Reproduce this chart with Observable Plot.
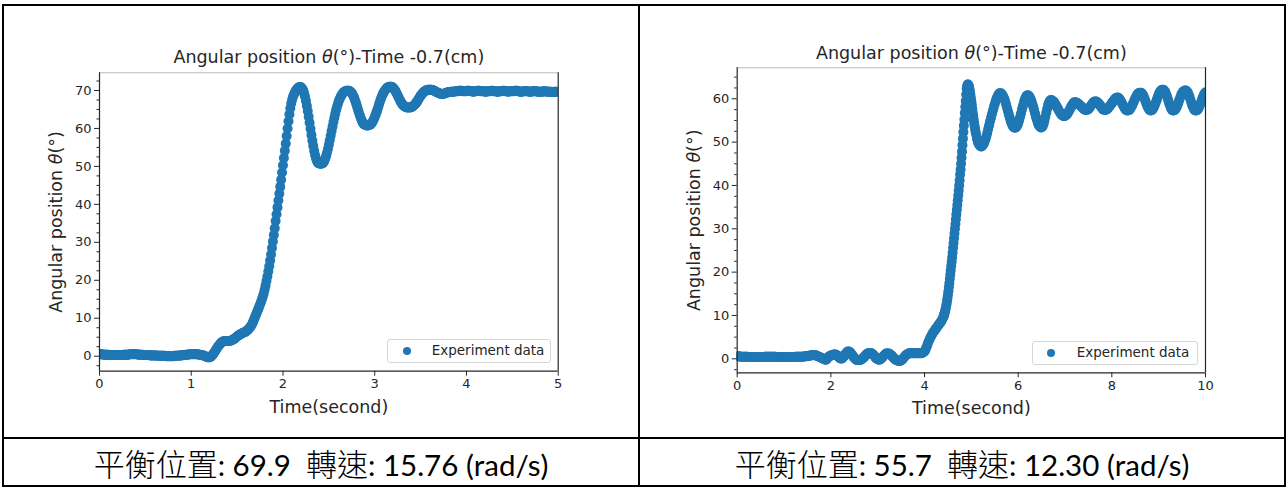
<!DOCTYPE html>
<html><head><meta charset="utf-8">
<script src="https://cdn.jsdelivr.net/npm/d3@7"></script>
<script src="https://cdn.jsdelivr.net/npm/@observablehq/plot@0.6"></script>
<style>
body{margin:0;background:#fff;}
#page{position:relative;width:1288px;height:488px;overflow:hidden;background:#fff;font-family:"DejaVu Sans",sans-serif;}
.line{position:absolute;background:#000;}
.chart{position:absolute;top:0;}
.legend{position:absolute;box-sizing:border-box;border:1px solid #d6d6d6;border-radius:3px;background:rgba(255,255,255,0.8);font:13.5px "DejaVu Sans",sans-serif;color:#262626;}
.legend .mk{position:absolute;width:8px;height:8px;border-radius:50%;background:#1f77b4;}
.legend .lb{position:absolute;white-space:nowrap;line-height:1;}
.caption{position:absolute;white-space:pre;font-family:Lato,"Noto Sans CJK TC",sans-serif;font-size:29.5px;font-weight:400;color:#000;transform:translate(-50%,-50%);line-height:1;}
.caption .cjk{font-family:"Noto Sans CJK TC",sans-serif;font-size:31px;font-weight:300;}
</style></head>
<body><div id="page"></div>
<script>
// ---------- texts ----------
const titleText = "Angular position θ(°)-Time -0.7(cm)";
const yLabelText = "Angular position θ(°)";
const xLabelText = "Time(second)";
const legendText = "Experiment data";
const captions = ["平衡位置: 69.9  轉速: 15.76 (rad/s)", "平衡位置: 55.7  轉速: 12.30 (rad/s)"];

// ---------- axes ----------
const leftXTicks = [0, 1, 2, 3, 4, 5];
const leftYTicks = [0, 10, 20, 30, 40, 50, 60, 70];
const leftYMinor = [-2.5, 2.5, 5, 7.5, 12.5, 15, 17.5, 22.5, 25, 27.5, 32.5, 35, 37.5, 42.5, 45, 47.5, 52.5, 55, 57.5, 62.5, 65, 67.5, 72.5];
const leftXDomain = [0, 5];
const leftYDomain = [-3.95, 74.66];

const rightXTicks = [0, 2, 4, 6, 8, 10];
const rightYTicks = [0, 10, 20, 30, 40, 50, 60];
const rightYMinor = [-2.5, 2.5, 5, 7.5, 12.5, 15, 17.5, 22.5, 25, 27.5, 32.5, 35, 37.5, 42.5, 45, 47.5, 52.5, 55, 57.5, 62.5, 65];
const rightXDomain = [0, 10];
const rightYDomain = [-3.23, 67.15];

// ---------- data: left chart, sampled every 0.01 s from 0 to 5 s ----------
const leftStart = 0;
const leftStep = 0.01;
const leftTheta = [
0.5,0.5,0.5,0.5,0.4,0.4,0.4,0.4,0.4,0.4,
0.4,0.3,0.3,0.3,0.3,0.3,0.3,0.3,0.3,0.3,
0.3,0.3,0.3,0.3,0.3,0.3,0.4,0.4,0.4,0.4,
0.4,0.4,0.4,0.5,0.5,0.5,0.5,0.5,0.5,0.5,
0.5,0.5,0.4,0.4,0.4,0.4,0.4,0.4,0.3,0.3,
0.3,0.3,0.3,0.3,0.3,0.2,0.2,0.2,0.2,0.2,
0.2,0.2,0.2,0.1,0.1,0.1,0.1,0.1,0.1,0.1,
0.1,0.1,0.0,0.0,0.0,0.0,0.0,0.0,0.0,0.0,
0.0,0.0,0.1,0.1,0.1,0.1,0.1,0.2,0.2,0.2,
0.2,0.3,0.3,0.3,0.4,0.4,0.4,0.4,0.5,0.5,
0.5,0.5,0.5,0.5,0.5,0.5,0.5,0.5,0.4,0.4,
0.4,0.3,0.3,0.2,0.1,0.0,-0.1,-0.2,-0.3,-0.3,
-0.3,-0.2,0.0,0.3,0.6,0.9,1.3,1.7,2.1,2.5,
2.8,3.1,3.4,3.6,3.8,3.9,4.0,4.0,4.0,4.0,
4.0,4.0,4.0,4.1,4.2,4.3,4.4,4.6,4.8,5.0,
5.2,5.4,5.5,5.7,5.8,6.0,6.1,6.2,6.3,6.4,
6.6,6.8,7.0,7.3,7.6,7.9,8.3,8.8,9.4,10.0,
10.6,11.2,11.8,12.4,13.0,13.6,14.3,15.0,15.7,16.5,
17.5,18.6,19.8,21.0,22.3,23.7,25.2,26.8,28.5,30.2,
31.9,33.7,35.6,37.4,39.2,41.0,42.8,44.6,46.5,48.4,
50.3,52.2,54.1,56.0,58.0,60.0,61.9,63.7,65.3,66.6,
67.6,68.4,69.0,69.5,69.9,70.3,70.6,70.8,70.9,70.9,
70.8,70.5,70.0,69.3,68.4,67.3,66.0,64.6,63.1,61.5,
59.9,58.3,56.8,55.4,54.1,53.0,52.1,51.4,51.0,50.8,
50.7,50.7,50.7,50.8,51.0,51.4,52.0,52.7,53.6,54.6,
55.7,56.9,58.1,59.3,60.5,61.7,62.8,63.9,64.9,65.8,
66.6,67.3,67.9,68.4,68.8,69.2,69.5,69.7,69.8,69.9,
69.9,69.9,69.9,69.8,69.6,69.3,68.9,68.4,67.8,67.1,
66.4,65.6,64.8,64.0,63.3,62.6,62.0,61.5,61.2,61.0,
60.9,60.8,60.8,60.8,60.9,61.0,61.2,61.5,61.9,62.4,
63.0,63.6,64.3,65.0,65.8,66.6,67.3,68.0,68.6,69.1,
69.6,70.0,70.3,70.6,70.8,70.9,71.0,71.0,71.0,70.9,
70.7,70.4,70.1,69.7,69.2,68.7,68.2,67.7,67.2,66.8,
66.4,66.1,65.9,65.7,65.6,65.5,65.5,65.5,65.5,65.5,
65.6,65.7,65.9,66.1,66.4,66.7,67.0,67.4,67.8,68.2,
68.6,68.9,69.2,69.5,69.7,69.9,70.0,70.1,70.2,70.2,
70.2,70.2,70.2,70.1,70.0,69.9,69.8,69.6,69.5,69.4,
69.3,69.2,69.1,69.1,69.1,69.1,69.2,69.3,69.4,69.5,
69.5,69.6,69.6,69.7,69.7,69.7,69.7,69.7,69.8,69.8,
69.8,69.8,69.9,69.9,69.9,69.9,69.8,69.8,69.8,69.8,
69.8,69.9,69.9,69.9,69.8,69.8,69.8,69.7,69.7,69.8,
69.8,69.8,69.9,69.9,69.9,69.8,69.8,69.8,69.8,69.8,
69.7,69.7,69.7,69.8,69.8,69.8,69.8,69.9,69.9,69.8,
69.8,69.8,69.8,69.7,69.7,69.7,69.8,69.8,69.8,69.8,
69.9,69.9,69.8,69.8,69.8,69.7,69.7,69.8,69.8,69.8,
69.8,69.8,69.8,69.9,69.9,69.9,69.8,69.8,69.7,69.7,
69.7,69.7,69.8,69.8,69.8,69.8,69.8,69.8,69.7,69.7,
69.7,69.7,69.8,69.8,69.8,69.8,69.8,69.7,69.7,69.7,
69.7,69.7,69.7,69.7,69.8,69.8,69.8,69.7,69.7,69.7,
69.7,69.7,69.7,69.6,69.6,69.6,69.7,69.7,69.7,69.7,
69.7
];

// ---------- data: right chart, sampled every 0.02 s from 0 to 10 s ----------
const rightStart = 0;
const rightStep = 0.02;
const rightTheta = [
0.6,0.6,0.6,0.5,0.5,0.5,0.5,0.5,0.5,0.5,
0.5,0.5,0.4,0.4,0.4,0.4,0.4,0.4,0.4,0.4,
0.4,0.4,0.4,0.4,0.4,0.4,0.4,0.4,0.4,0.5,
0.5,0.5,0.5,0.5,0.5,0.5,0.5,0.5,0.5,0.5,
0.5,0.5,0.4,0.4,0.4,0.4,0.4,0.4,0.4,0.4,
0.4,0.4,0.4,0.4,0.4,0.4,0.4,0.4,0.4,0.4,
0.4,0.4,0.5,0.5,0.5,0.5,0.5,0.5,0.5,0.5,
0.5,0.5,0.6,0.6,0.6,0.6,0.7,0.7,0.7,0.8,
0.8,0.8,0.8,0.8,0.8,0.7,0.6,0.5,0.4,0.3,
0.2,0.1,0.0,-0.1,-0.2,-0.2,0.0,0.3,0.5,0.7,
0.7,0.8,0.9,1.0,1.0,1.0,0.9,0.7,0.5,0.3,
0.1,0.0,0.1,0.3,0.6,0.9,1.2,1.5,1.7,1.7,
1.6,1.4,1.1,0.8,0.5,0.2,0.0,-0.2,-0.3,-0.3,
-0.3,-0.3,-0.2,-0.1,0.1,0.3,0.5,0.8,1.0,1.2,
1.3,1.3,1.3,1.3,1.2,1.0,0.8,0.5,0.2,0.0,
-0.1,-0.2,-0.2,-0.1,0.1,0.3,0.6,0.8,1.0,1.2,
1.2,1.2,1.2,1.1,0.9,0.7,0.5,0.2,0.0,-0.2,
-0.3,-0.4,-0.5,-0.5,-0.5,-0.4,-0.2,0.0,0.3,0.6,
0.8,1.0,1.1,1.2,1.3,1.3,1.3,1.3,1.3,1.3,
1.3,1.3,1.3,1.3,1.3,1.3,1.3,1.3,1.4,1.5,
1.7,2.1,2.6,3.2,3.8,4.3,4.8,5.2,5.6,6.0,
6.3,6.6,6.9,7.2,7.5,7.8,8.1,8.4,8.7,9.1,
9.6,10.2,11.0,12.0,13.3,14.8,16.5,18.4,20.4,22.4,
24.5,26.7,28.9,31.1,33.3,35.5,37.7,40.0,42.5,45.0,
47.8,50.8,53.8,56.7,59.5,62.3,63.3,63.1,62.3,61.0,
59.4,57.7,56.0,54.4,53.0,51.8,50.8,50.0,49.5,49.2,
49.0,49.0,49.2,49.5,50.0,50.6,51.3,52.1,53.0,53.9,
54.8,55.6,56.5,57.3,58.1,58.8,59.5,60.1,60.6,61.0,
61.25,61.3,61.2,61.0,60.6,60.1,59.5,58.8,58.0,57.2,
56.4,55.6,54.9,54.3,53.8,53.5,53.3,53.3,53.5,53.8,
54.3,55.0,55.8,56.6,57.5,58.3,59.1,59.8,60.3,60.7,
60.8,60.75,60.5,60.1,59.6,58.9,58.2,57.4,56.6,55.8,
55.1,54.4,53.9,53.6,53.4,53.4,53.6,54.1,54.9,55.8,
56.8,57.7,58.6,59.2,59.6,59.7,59.65,59.5,59.3,59.0,
58.65,58.25,57.85,57.45,57.05,56.7,56.4,56.2,56.05,56.0,
56.05,56.2,56.4,56.7,57.1,57.5,57.9,58.3,58.7,59.0,
59.2,59.2,59.15,59.0,58.9,58.7,58.5,58.3,58.1,57.85,
57.65,57.5,57.4,57.4,57.5,57.6,57.9,58.2,58.5,58.8,
59.1,59.3,59.4,59.4,59.3,59.1,58.9,58.6,58.3,58.0,
57.7,57.5,57.4,57.4,57.45,57.6,57.8,58.1,58.4,58.7,
59.0,59.3,59.6,59.9,60.1,60.25,60.3,60.25,60.0,59.7,
59.3,58.9,58.5,58.1,57.7,57.45,57.3,57.3,57.35,57.5,
57.8,58.2,58.6,59.1,59.6,60.1,60.5,60.9,61.2,61.35,
61.4,61.4,61.25,61.0,60.6,60.0,59.4,58.8,58.3,57.8,
57.5,57.3,57.3,57.4,57.7,58.1,58.6,59.2,59.8,60.4,
61.0,61.5,61.8,62.0,62.1,62.1,61.9,61.6,61.1,60.5,
59.8,59.1,58.5,57.9,57.5,57.3,57.3,57.35,57.6,58.0,
58.5,59.1,59.7,60.3,60.9,61.3,61.6,61.8,61.9,61.9,
61.8,61.5,61.0,60.4,59.7,59.0,58.4,57.9,57.5,57.3,
57.3,57.35,57.6,58.0,58.5,59.1,59.7,60.3,60.8,61.2,
61.5
];
// extra samples of the fast rise (right chart) at the odd hundredths 4.41 … 5.09 s
const rightRiseStart = 4.41;
const rightRiseStep = 0.02;
const rightRiseTheta = [
9.9,10.6,11.5,12.6,14.0,15.6,17.4,19.4,21.4,23.4,
25.6,27.8,30.0,32.2,34.4,36.6,38.8,41.2,43.7,46.4,
49.3,52.3,55.2,58.1,61.0,62.9,63.3,62.8,61.7,60.2,
58.6,56.8,55.2,53.7,52.4
];

const toRows = (arr, start, step) => arr.map((v, i) => ({t: Math.round((start + i * step) * 1000) / 1000, v}));

function makeChart(cfg) {
  const ink = "#262626";
  return Plot.plot({
    width: cfg.width, height: cfg.height,
    marginLeft: cfg.ml, marginRight: cfg.mr, marginTop: cfg.mt, marginBottom: cfg.mb,
    style: {fontFamily: "'DejaVu Sans', sans-serif", fontSize: "13px", color: ink, background: "transparent", overflow: "visible"},
    x: {domain: cfg.xDomain, label: null},
    y: {domain: cfg.yDomain, label: null},
    marks: [
      Plot.dot(cfg.data, {x: "t", y: "v", r: 5, fill: "#1f77b4", clip: true}),
      Plot.ruleY([cfg.yDomain[1]], {stroke: "#b8b8b8", strokeWidth: 1}),
      Plot.ruleX(cfg.xDomain, {stroke: ink, strokeWidth: 1.2}),
      Plot.ruleY([cfg.yDomain[0]], {stroke: ink, strokeWidth: 1.2}),
      Plot.axisX(cfg.xTicks, {tickSize: 5, tickPadding: 3, fontSize: 13, label: null}),
      Plot.axisY(cfg.yTicks, {tickSize: 5, tickPadding: 3, fontSize: 13, label: null}),
      Plot.axisY(cfg.yMinor, {tickSize: 2.5, tickFormat: () => "", label: null}),
      Plot.text([titleText], {text: d => d, frameAnchor: "top", lineAnchor: "middle", dy: cfg.titleDy, fontSize: 17.5, fill: ink}),
      Plot.text([xLabelText], {text: d => d, frameAnchor: "bottom", lineAnchor: "middle", dy: 36, fontSize: 17.5, fill: ink}),
      Plot.text([yLabelText], {text: d => d, frameAnchor: "left", textAnchor: "middle", lineAnchor: "middle", rotate: -90, dx: -43, fontSize: 17.5, fill: ink})
    ]
  });
}

function italicTheta(svg) {
  const walker = document.createTreeWalker(svg, NodeFilter.SHOW_TEXT);
  const nodes = [];
  while (walker.nextNode()) if (walker.currentNode.nodeValue.includes("θ")) nodes.push(walker.currentNode);
  const NS = "http://www.w3.org/2000/svg";
  for (const n of nodes) {
    const parts = n.nodeValue.split("θ");
    const frag = document.createDocumentFragment();
    parts.forEach((p, i) => {
      if (i > 0) { const ts = document.createElementNS(NS, "tspan"); ts.setAttribute("font-style", "italic"); ts.textContent = "θ"; frag.appendChild(ts); }
      if (p) { const ts = document.createElementNS(NS, "tspan"); ts.textContent = p; frag.appendChild(ts); }
    });
    n.parentNode.replaceChild(frag, n);
  }
}

const page = document.getElementById("page");

const left = makeChart({width: 640, height: 430, ml: 99, mr: 82.3, mt: 72.3, mb: 59.3,
  xDomain: leftXDomain, yDomain: leftYDomain, xTicks: leftXTicks, yTicks: leftYTicks, yMinor: leftYMinor,
  data: toRows(leftTheta, leftStart, leftStep), titleDy: -15});
left.classList.add("chart"); left.style.left = "0px"; italicTheta(left); page.appendChild(left);

const rightData = toRows(rightTheta, rightStart, rightStep)
  .concat(toRows(rightRiseTheta, rightRiseStart, rightRiseStep))
  .sort((a, b) => a.t - b.t);
const right = makeChart({width: 648, height: 430, ml: 96.7, mr: 83, mt: 67.3, mb: 57.7,
  xDomain: rightXDomain, yDomain: rightYDomain, xTicks: rightXTicks, yTicks: rightYTicks, yMinor: rightYMinor,
  data: rightData, titleDy: -14});
right.classList.add("chart"); right.style.left = "640px"; italicTheta(right); page.appendChild(right);

// legends
function addLegend(x, y, w, h, mx, tx) {
  const d = document.createElement("div");
  d.className = "legend";
  Object.assign(d.style, {left: x + "px", top: y + "px", width: w + "px", height: h + "px"});
  const mk = document.createElement("div"); mk.className = "mk";
  Object.assign(mk.style, {left: (mx - x - 4) + "px", top: (h / 2 - 4 - 1) + "px"});
  const lb = document.createElement("div"); lb.className = "lb"; lb.textContent = legendText;
  Object.assign(lb.style, {left: (tx - x - 1) + "px", top: (h / 2 - 8) + "px"});
  d.appendChild(mk); d.appendChild(lb); page.appendChild(d);
}
addLegend(387.3, 339.3, 163.4, 24, 406, 431.7);
addLegend(1031.7, 340.7, 166.6, 24.3, 1050, 1076.7);

// table lines
[[2, 4, 1284, 2], [2, 485, 1284, 2], [2, 4, 2, 483], [1284, 4, 2, 483], [2, 437, 1284, 2], [638, 4, 2, 483]].forEach(([x, y, w, h]) => {
  const l = document.createElement("div"); l.className = "line";
  Object.assign(l.style, {left: x + "px", top: y + "px", width: w + "px", height: h + "px"});
  page.appendChild(l);
});

// captions (CJK runs in a CJK font, the rest in a Latin font)
[[321, 463], [962, 463]].forEach(([cx, cy], i) => {
  const c = document.createElement("div"); c.className = "caption";
  captions[i].split(/([\u3400-\u9fff]+)/).forEach(part => {
    if (!part) return;
    const s = document.createElement("span");
    if (/[\u3400-\u9fff]/.test(part)) s.className = "cjk";
    s.textContent = part;
    c.appendChild(s);
  });
  Object.assign(c.style, {left: cx + "px", top: cy + "px"});
  page.appendChild(c);
});
</script>
</body></html>
